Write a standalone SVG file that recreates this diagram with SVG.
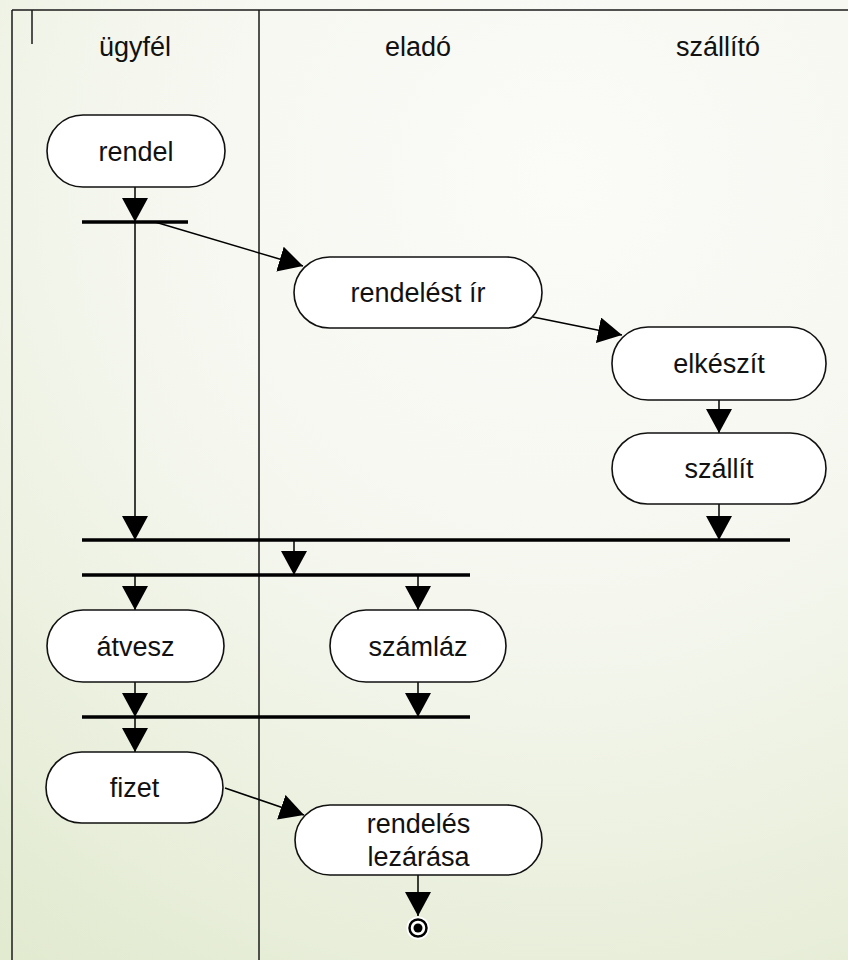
<svg xmlns="http://www.w3.org/2000/svg" width="848" height="960" viewBox="0 0 848 960">
<defs>
<radialGradient id="bg" cx="560" cy="180" r="950" gradientUnits="userSpaceOnUse">
<stop offset="0" stop-color="#fbfbf8"/>
<stop offset="0.45" stop-color="#f5f7ef"/>
<stop offset="1" stop-color="#e2ead0"/>
</radialGradient>
<marker id="arr" markerUnits="userSpaceOnUse" markerWidth="24" markerHeight="26" refX="24" refY="13" orient="auto" viewBox="0 0 24 26">
<path d="M0,0 L24,13 L0,26 z" fill="#000"/>
</marker>
<style>
.frame{stroke:#1a1a1a;stroke-width:1.5;fill:none}
.node rect{fill:#fff;stroke:#111;stroke-width:1.6}
.lbl{font-family:"Liberation Sans",Arial,sans-serif;font-size:27px;fill:#111;text-anchor:middle}
.c{stroke:#000;stroke-width:1.5;fill:none}
.a{stroke:#000;stroke-width:1.5;fill:none;marker-end:url(#arr)}
.bar{stroke:#000;stroke-width:3.5}
</style>
</defs>
<rect width="848" height="960" fill="url(#bg)"/>
<g id="frame">
<line class="frame" x1="12" y1="10" x2="848" y2="10"/>
<line class="frame" x1="12" y1="10" x2="12" y2="960"/>
<line class="frame" x1="259" y1="10" x2="259" y2="960"/>
<line class="frame" x1="32" y1="10" x2="32" y2="44"/>
<text class="lbl" x="135" y="56">ügyfél</text>
<text class="lbl" x="418" y="56">eladó</text>
<text class="lbl" x="718" y="56">szállító</text>
</g>
<g id="bars">
<line class="bar" x1="82" y1="222" x2="188" y2="222"/>
<line class="bar" x1="82" y1="540" x2="790" y2="540"/>
<line class="bar" x1="82" y1="575" x2="470" y2="575"/>
<line class="bar" x1="82" y1="717" x2="470" y2="717"/>
</g>
<g id="connectors">
<line class="a" x1="135" y1="187" x2="135" y2="222"/>
<line class="a" x1="135" y1="222" x2="135" y2="540"/>
<line class="a" x1="155" y1="222" x2="303" y2="266"/>
<line class="a" x1="533" y1="317" x2="622" y2="335"/>
<line class="a" x1="719" y1="400" x2="719" y2="433"/>
<line class="a" x1="719" y1="504" x2="719" y2="540"/>
<line class="a" x1="294" y1="540" x2="294" y2="575"/>
<line class="a" x1="135" y1="575" x2="135" y2="610"/>
<line class="a" x1="418" y1="575" x2="418" y2="610"/>
<line class="a" x1="135" y1="682" x2="135" y2="717"/>
<line class="a" x1="418" y1="682" x2="418" y2="717"/>
<line class="a" x1="135" y1="717" x2="135" y2="752"/>
<line class="a" x1="225" y1="788" x2="304" y2="815"/>
<line class="a" x1="418" y1="875" x2="418" y2="916"/>
</g>
<g id="rendel" class="node"><rect x="47" y="115" width="178" height="72" rx="36"/><text class="lbl" x="136" y="161">rendel</text></g>
<g id="rendelest-ir" class="node"><rect x="294" y="257" width="248" height="71" rx="35.5"/><text class="lbl" x="418" y="302">rendelést ír</text></g>
<g id="elkeszit" class="node"><rect x="612" y="327" width="214" height="73" rx="36"/><text class="lbl" x="719" y="373">elkészít</text></g>
<g id="szallit" class="node"><rect x="612" y="433" width="214" height="71" rx="35.5"/><text class="lbl" x="719" y="478">szállít</text></g>
<g id="atvesz" class="node"><rect x="47" y="610" width="177" height="72" rx="36"/><text class="lbl" x="135.5" y="656">átvesz</text></g>
<g id="szamlaz" class="node"><rect x="330" y="610" width="176" height="72" rx="36"/><text class="lbl" x="418" y="656">számláz</text></g>
<g id="fizet" class="node"><rect x="46" y="752" width="177" height="71" rx="35.5"/><text class="lbl" x="134.5" y="797">fizet</text></g>
<g id="rendeles-lezarasa" class="node"><rect x="295" y="805" width="247" height="70" rx="35"/><text class="lbl" x="418.5" y="833">rendelés</text><text class="lbl" x="418.5" y="866">lezárása</text></g>
<g id="final">
<circle cx="418" cy="928" r="11.5" fill="#fff"/>
<circle cx="418" cy="928" r="8.5" fill="none" stroke="#000" stroke-width="2.5"/>
<circle cx="418" cy="928" r="4.5" fill="#000"/>
</g>
</svg>
